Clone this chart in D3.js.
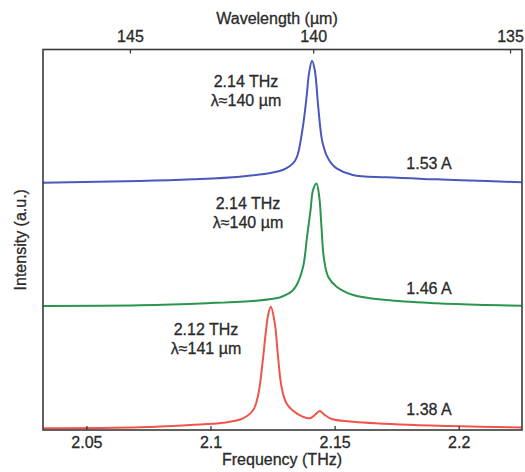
<!DOCTYPE html>
<html>
<head>
<meta charset="utf-8">
<script src="https://cdn.jsdelivr.net/npm/d3@7/dist/d3.min.js"></script>
<style>
  html, body { margin: 0; padding: 0; background: #ffffff; }
  svg { display: block; }
  text { font-family: "Liberation Sans", Arial, Helvetica, sans-serif; fill: #2a2a2a; stroke: #2a2a2a; stroke-width: 0.3px; }
</style>
</head>
<body>
<svg id="chart" width="525" height="472"></svg>
<script>
// ---- Data ----
const freqTicks = [2.05, 2.1, 2.15, 2.2];
const freqTickLabels = ["2.05", "2.1", "2.15", "2.2"];
const wavelengthTicks = [145, 140, 135];
const wavelengthTickLabels = ["145", "140", "135"];
const SPEED_OF_LIGHT = 299.792458; // µm·THz

// Frequency (THz) / normalized intensity for each spectrum
const blueFreq = [2.0325, 2.0715, 2.0929, 2.1118, 2.1251, 2.1291, 2.1320, 2.1340, 2.1352, 2.1372, 2.1387, 2.1397, 2.1409, 2.1420, 2.1434, 2.1447, 2.1456, 2.1467, 2.1486, 2.1508, 2.1573, 2.1709, 2.1910, 2.2112, 2.2254];
const blueInt  = [0.006, 0.019, 0.033, 0.054, 0.088, 0.109, 0.141, 0.182, 0.239, 0.457, 0.701, 0.895, 0.995, 0.920, 0.620, 0.376, 0.295, 0.230, 0.165, 0.122, 0.068, 0.049, 0.033, 0.019, 0.009];

const greenFreq = [2.0325, 2.0715, 2.0984, 2.1185, 2.1279, 2.1306, 2.1330, 2.1347, 2.1373, 2.1389, 2.1403, 2.1413, 2.1427, 2.1438, 2.1447, 2.1456, 2.1474, 2.1508, 2.1575, 2.1709, 2.1910, 2.2112, 2.2254];
const greenInt  = [0.006, 0.011, 0.028, 0.049, 0.075, 0.098, 0.130, 0.176, 0.324, 0.568, 0.784, 0.946, 1.000, 0.892, 0.649, 0.406, 0.243, 0.162, 0.095, 0.054, 0.028, 0.014, 0.008];

const redFreq = [2.0325, 2.0715, 2.0917, 2.1051, 2.1131, 2.1172, 2.1192, 2.1210, 2.1223, 2.1232, 2.1243, 2.1259, 2.1272, 2.1286, 2.1306, 2.1347, 2.1400, 2.1420, 2.1440, 2.1460, 2.1488, 2.1561, 2.1763, 2.1964, 2.2254];
const redInt  = [0.014, 0.022, 0.041, 0.059, 0.095, 0.162, 0.284, 0.554, 0.797, 0.933, 1.000, 0.865, 0.595, 0.351, 0.217, 0.135, 0.095, 0.122, 0.154, 0.122, 0.089, 0.069, 0.045, 0.032, 0.020];

const seriesNames = ["1.53 A", "1.46 A", "1.38 A"];
const seriesOffsets = [2, 1, 0];
const seriesColors = ["#4a58bd", "#2b9550", "#f0544c"];
const peakLabelLine1 = ["2.14 THz", "2.14 THz", "2.12 THz"];
const peakLabelLine2 = ["λ≈140 µm", "λ≈140 µm", "λ≈141 µm"];

// ---- Layout ----
const svg = d3.select("#chart");
const plot = { left: 43, right: 522, top: 49.5, bottom: 430 };

const x = d3.scaleLinear().domain([2.0325, 2.2255]).range([plot.left, plot.right]);
const y = d3.scaleLinear().domain([0, 3.086]).range([plot.bottom, plot.top]);

svg.append("defs").append("clipPath").attr("id", "clip")
  .append("rect")
  .attr("x", plot.left).attr("y", plot.top)
  .attr("width", plot.right - plot.left).attr("height", plot.bottom - plot.top);

const series = [
  { freq: blueFreq, inten: blueInt },
  { freq: greenFreq, inten: greenInt },
  { freq: redFreq, inten: redInt }
].map((s, i) => ({
  name: seriesNames[i],
  color: seriesColors[i],
  offset: seriesOffsets[i],
  points: s.freq.map((f, j) => ({ f, v: s.inten[j] + seriesOffsets[i] }))
}));

const line = d3.line()
  .x(d => x(d.f))
  .y(d => y(d.v))
  .curve(d3.curveCatmullRom.alpha(0.5));

const curves = svg.append("g").attr("clip-path", "url(#clip)");
series.forEach(s => {
  curves.append("path")
    .datum(s.points)
    .attr("fill", "none")
    .attr("stroke", s.color)
    .attr("stroke-width", 2)
    .attr("stroke-linejoin", "round")
    .attr("d", line);
});

// ---- Axes ----
const axisColor = "#3a3a3a";
const bottomAxis = d3.axisBottom(x)
  .tickValues(freqTicks)
  .tickFormat((d, i) => freqTickLabels[i])
  .tickSizeInner(-4).tickSizeOuter(0).tickPadding(7);

const gB = svg.append("g").attr("transform", `translate(0,${plot.bottom})`).call(bottomAxis);

const topAxis = d3.axisTop(x)
  .tickValues(wavelengthTicks.map(l => SPEED_OF_LIGHT / l))
  .tickFormat((d, i) => wavelengthTickLabels[i])
  .tickSizeInner(-4).tickSizeOuter(0).tickPadding(8);

const gT = svg.append("g").attr("transform", `translate(0,${plot.top})`).call(topAxis);

[gB, gT].forEach(g => {
  g.select(".domain").remove();
  g.selectAll(".tick line").attr("stroke", axisColor).attr("stroke-width", 1.3);
  g.selectAll(".tick text").attr("font-size", 16)
    .attr("font-family", '"Liberation Sans", Arial, sans-serif')
    .attr("fill", "#2a2a2a").attr("stroke", "#2a2a2a").attr("stroke-width", 0.3);
});

// Frame
svg.append("rect")
  .attr("x", plot.left).attr("y", plot.top)
  .attr("width", plot.right - plot.left).attr("height", plot.bottom - plot.top)
  .attr("fill", "none").attr("stroke", axisColor).attr("stroke-width", 1.6);

// Axis titles
svg.append("text")
  .attr("x", 282).attr("y", 465)
  .attr("text-anchor", "middle").attr("font-size", 16)
  .text("Frequency (THz)");

svg.append("text")
  .attr("x", 277).attr("y", 24)
  .attr("text-anchor", "middle").attr("font-size", 16)
  .text("Wavelength (µm)");

svg.append("text")
  .attr("transform", `translate(26,${(plot.top + plot.bottom) / 2}) rotate(-90)`)
  .attr("text-anchor", "middle").attr("font-size", 16)
  .text("Intensity (a.u.)");

// Series annotations: current label near right end, peak labels left of the peak
const currentLabelX = 429;
const currentLabelDy = [-13, -12, -13];
series.forEach((s, i) => {
  const baseV = s.points[s.points.length - 1].v;
  svg.append("text")
    .attr("x", currentLabelX)
    .attr("y", y(baseV) + currentLabelDy[i])
    .attr("text-anchor", "middle").attr("font-size", 16)
    .text(s.name);
});

const peakLabelX = [246, 248, 206];
const peakLabelY = [87, 209, 334.5];
series.forEach((s, i) => {
  const t = svg.append("text")
    .attr("text-anchor", "middle").attr("font-size", 16);
  t.append("tspan").attr("x", peakLabelX[i]).attr("y", peakLabelY[i]).text(peakLabelLine1[i]);
  t.append("tspan").attr("x", peakLabelX[i]).attr("y", peakLabelY[i] + 19).text(peakLabelLine2[i]);
});
</script>
</body>
</html>
